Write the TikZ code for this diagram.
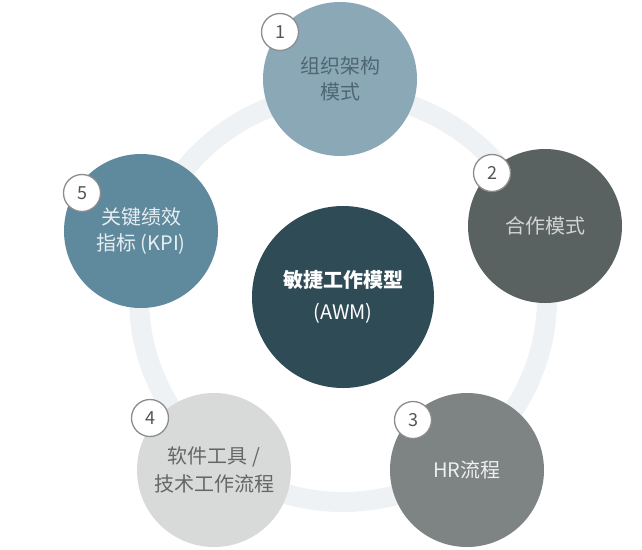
\documentclass[tikz,border=0pt]{standalone}
\usepackage{fontspec}
\setmainfont{Noto Sans CJK SC}
\usetikzlibrary{positioning}
\definecolor{ringc}{HTML}{EEF2F4}
\definecolor{cA}{HTML}{8BA8B7}
\definecolor{cB}{HTML}{5A6161}
\definecolor{cC}{HTML}{7E8384}
\definecolor{cD}{HTML}{D8D9D9}
\definecolor{cE}{HTML}{5F899C}
\definecolor{cM}{HTML}{2F4B56}
\definecolor{tA}{HTML}{4F6673}
\definecolor{tB}{HTML}{D2D4D4}
\definecolor{tC}{HTML}{EEEEEE}
\definecolor{tD}{HTML}{666666}
\definecolor{tE}{HTML}{E6EEF2}
\definecolor{badgeline}{HTML}{8C8C8C}
\definecolor{badgetext}{HTML}{555555}
\tikzset{
  bigc/.style={circle, minimum size=154pt, inner sep=0pt, align=center,
    font=\fontsize{20pt}{26pt}\selectfont},
  badge/.style={circle, minimum size=37pt, inner sep=0pt, fill=white,
    draw=badgeline, line width=1.3pt, text=badgetext,
    font=\fontsize{18pt}{20pt}\selectfont}
}
\begin{document}
\begin{tikzpicture}[x=1pt,y=-1pt]
\useasboundingbox[fill=white] (0,0) rectangle (642,549);
\draw[ringc, line width=20pt] (343,298) circle[radius=204];
\node[circle, minimum size=182pt, inner sep=0pt, fill=cM, text=white, align=center,
  font=\fontsize{20pt}{32pt}\selectfont] (m) at (343,297)
  {{\bfseries 敏捷工作模型}\\(AWM)};
\node[bigc, fill=cA, text=tA] (n1) at (340,79) {组织架构\\模式};
\node[bigc, fill=cB, text=tB] (n2) at (545,226) {合作模式};
\node[bigc, fill=cC, text=tC] (n3) at (467,470) {HR流程};
\node[bigc, fill=cD, text=tD, font=\fontsize{20pt}{28pt}\selectfont] (n4) at (214,470) {软件工具 /\\技术工作流程};
\node[bigc, fill=cE, text=tE] (n5) at (141,231) {关键绩效\\指标 (KPI)};
\node[badge] (b1) at (280,32) {1};
\node[badge] (b2) at (492,173) {2};
\node[badge] (b3) at (413,420) {3};
\node[badge] (b4) at (150,418) {4};
\node[badge] (b5) at (82,193) {5};
\end{tikzpicture}
\end{document}
